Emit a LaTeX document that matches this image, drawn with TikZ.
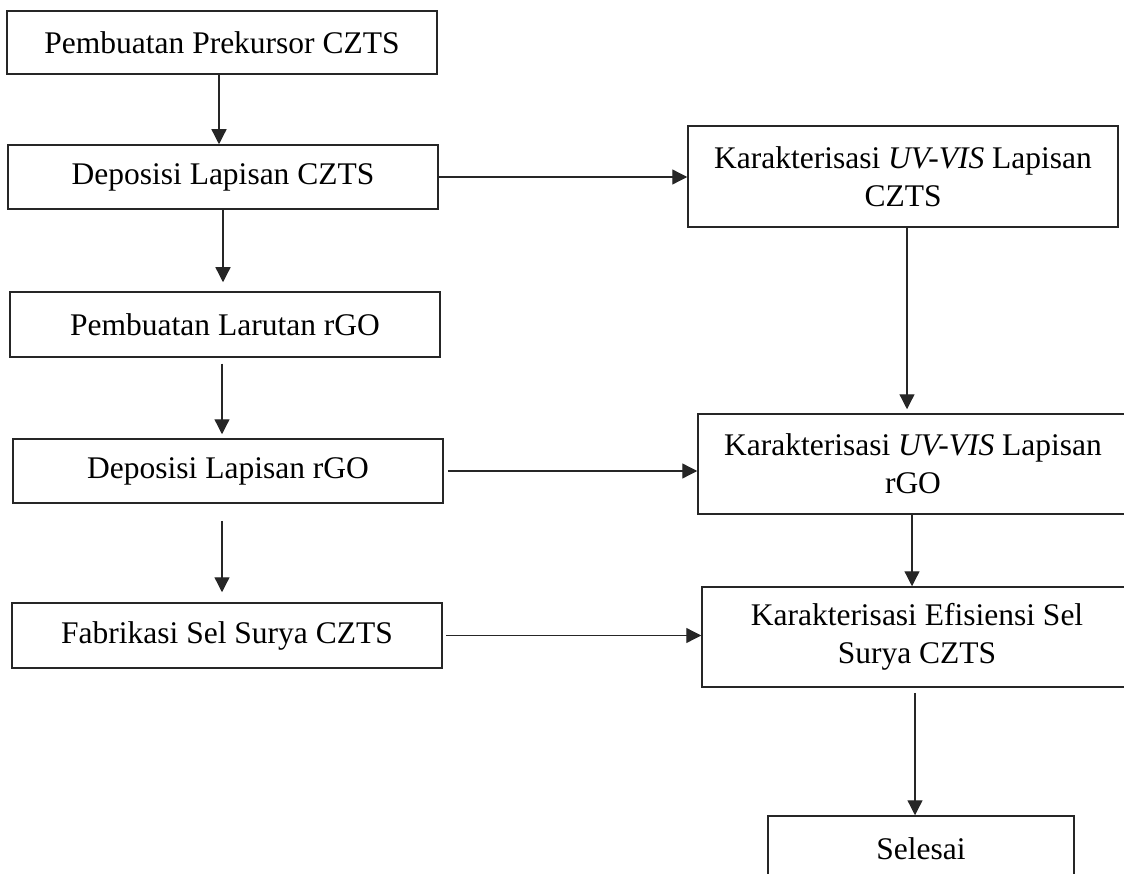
\documentclass[tikz,border=0pt]{standalone}
\usepackage{fontspec}
\setmainfont{Liberation Serif}
\usetikzlibrary{arrows.meta}
\tikzset{
  box/.style={draw=black!85, line width=1.5pt, rectangle, inner sep=0pt,
    minimum width=430pt, align=center, font=\fontsize{31.5}{38}\selectfont},
  arr/.style={draw=black!85, line width=1.3pt, -{Triangle[length=15pt,width=15pt]}}
}
\begin{document}
\begin{tikzpicture}[x=1pt,y=-1pt]
\useasboundingbox (0,0) rectangle (1124,874);
\node[box, minimum height=63pt] (b1) at (222,42.5) {Pembuatan Prekursor CZTS};
\node[box, minimum height=64pt] (b2) at (223,177) {Deposisi Lapisan CZTS};
\node[box, minimum height=65pt] (b3) at (225,324.5) {Pembuatan Larutan rGO};
\node[box, minimum height=64pt] (b4) at (228,471) {Deposisi Lapisan rGO};
\node[box, minimum height=65pt] (b5) at (227,635.5) {Fabrikasi Sel Surya CZTS};
\node[box, minimum height=101pt] (r1) at (903,176.5) {Karakterisasi \textit{UV-VIS} Lapisan\\CZTS};
\node[box, minimum height=100pt] (r2) at (913,464) {Karakterisasi \textit{UV-VIS} Lapisan\\rGO};
\node[box, minimum height=100pt] (r3) at (917,637) {Karakterisasi Efisiensi Sel\\Surya CZTS};
\node[box, minimum width=306pt, minimum height=66pt] (s) at (921,849) {Selesai};

\draw[arr] ([xshift=-3pt]b1.south) -- ([xshift=-3pt]b1.south |- b2.north);
\draw[arr, shorten >=9pt] (b2.south) -- (b2.south |- b3.north);
\draw[arr, shorten <=6pt, shorten >=4pt] ([xshift=-3pt]b3.south) -- ([xshift=-3pt]b3.south |- b4.north);
\draw[arr, shorten <=17pt, shorten >=10pt] ([xshift=-6pt]b4.south) -- ([xshift=-6pt]b4.south |- b5.north);

\draw[arr] (b2.east) -- (b2.east -| r1.west);
\draw[arr, shorten <=4pt] (b4.east) -- (b4.east -| r2.west);
\draw[arr, shorten <=3pt] (b5.east) -- (b5.east -| r3.west);

\draw[arr, shorten >=4pt] ([xshift=4pt]r1.south) -- ([xshift=4pt]r1.south |- r2.north);
\draw[arr] ([xshift=-1pt]r2.south) -- ([xshift=-1pt]r2.south |- r3.north);
\draw[arr, shorten <=5pt] ([xshift=-2pt]r3.south) -- ([xshift=-2pt]r3.south |- s.north);
\end{tikzpicture}
\end{document}
